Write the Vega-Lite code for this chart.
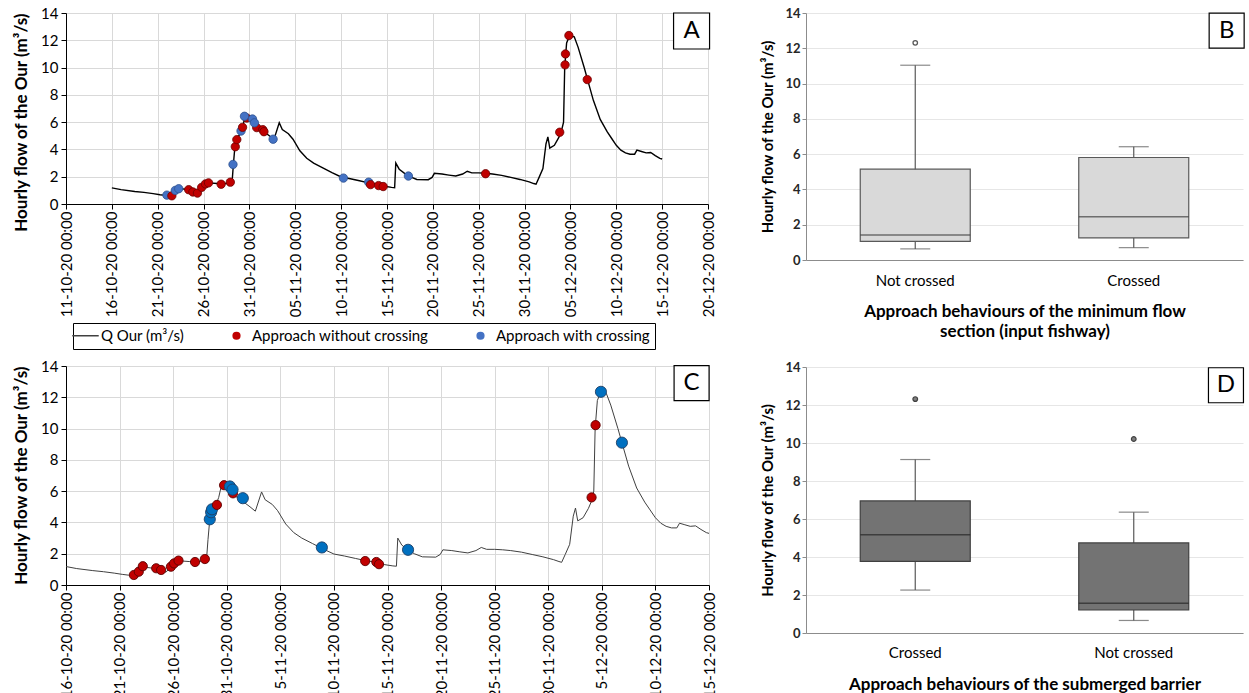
{
"$schema": "https://vega.github.io/schema/vega-lite/v6.json",
"padding": {"left": 12, "top": 6, "right": 0, "bottom": 0},
"background": "#ffffff",
"spacing": 43,
"resolve": {"scale": {"color": "independent", "fill": "independent", "stroke": "independent", "size": "independent"}, "legend": {"color": "independent"}},
"hconcat": [
 {"vconcat": [
  {"width": 642, "height": 191,
   "layer": [
    {"data": {"name": "flow"}, "mark": {"type": "line", "color": "#000000", "strokeWidth": 1.4},
     "encoding": {
      "x": {"field": "t", "type": "temporal",
        "scale": {"domain": [{"year":2020,"month":10,"date":11},{"year":2020,"month":12,"date":20}], "nice": false},
        "axis": {"title": null, "format": "%d-%m-%y %H:%M", "labelAngle": -90, "labelFontSize": 15, "labelPadding": 2, "tickSize": 5, "labelFlush": false, "labelOverlap": false, "labelBound": false, "grid": true,
          "values": [{"year":2020,"month":10,"date":11},{"year":2020,"month":10,"date":16},{"year":2020,"month":10,"date":21},{"year":2020,"month":10,"date":26},{"year":2020,"month":10,"date":31},{"year":2020,"month":11,"date":5},{"year":2020,"month":11,"date":10},{"year":2020,"month":11,"date":15},{"year":2020,"month":11,"date":20},{"year":2020,"month":11,"date":25},{"year":2020,"month":11,"date":30},{"year":2020,"month":12,"date":5},{"year":2020,"month":12,"date":10},{"year":2020,"month":12,"date":15},{"year":2020,"month":12,"date":20}]}},
      "y": {"field": "q", "type": "quantitative", "scale": {"domain": [0, 14], "nice": false},
        "axis": {"title": "Hourly flow of the Our (m³/s)", "titleAnchor": "end", "values": [0,2,4,6,8,10,12,14], "tickCount": 8, "labelOverlap": false, "labelFontSize": 15, "titleFontSize": 17, "titleFontWeight": "bold", "titlePadding": 10, "tickSize": 5, "labelPadding": 3, "grid": true}}
     }},
    {"data": {"name": "fishway"}, "mark": {"type": "point", "filled": true, "size": 70, "opacity": 1, "strokeWidth": 0.8},
     "encoding": {
      "x": {"field": "t", "type": "temporal"},
      "y": {"field": "q", "type": "quantitative"},
      "fill": {"field": "type", "type": "nominal", "scale": {"domain": ["Approach without crossing", "Approach with crossing"], "range": ["#c00000", "#4472c4"]}, "legend": null},
      "stroke": {"field": "type", "type": "nominal", "scale": {"domain": ["Approach without crossing", "Approach with crossing"], "range": ["#6b0000", "#2f528f"]}, "legend": null}
     }},
    {"data": {"values": [{"panel": "A"}]},
     "encoding": {"x": {"datum": {"year":2020,"month":12,"date":18,"hours":5}, "type": "temporal"}, "y": {"datum": 12.68}},
     "layer": [
      {"mark": {"type": "point", "shape": "square", "size": 1296, "filled": true, "fill": "#ffffff", "stroke": "#000000", "strokeWidth": 1.2, "opacity": 1}},
      {"mark": {"type": "text", "font": "Lato", "fontSize": 24, "align": "center", "baseline": "middle", "color": "#000000"}, "encoding": {"text": {"field": "panel"}}}
     ]}
   ]},
  {"width": 643, "height": 219,
   "layer": [
    {"data": {"name": "flow"}, "mark": {"type": "line", "strokeWidth": 1},
     "encoding": {
      "x": {"field": "t", "type": "temporal",
        "scale": {"domain": [{"year":2020,"month":10,"date":16},{"year":2020,"month":12,"date":15}], "nice": false},
        "axis": {"title": null, "format": "%-d-%m-%y %H:%M", "labelAngle": -90, "labelFontSize": 15, "labelPadding": 2, "tickSize": 5, "labelFlush": false, "labelOverlap": false, "labelBound": false, "grid": true,
          "values": [{"year":2020,"month":10,"date":16},{"year":2020,"month":10,"date":21},{"year":2020,"month":10,"date":26},{"year":2020,"month":10,"date":31},{"year":2020,"month":11,"date":5},{"year":2020,"month":11,"date":10},{"year":2020,"month":11,"date":15},{"year":2020,"month":11,"date":20},{"year":2020,"month":11,"date":25},{"year":2020,"month":11,"date":30},{"year":2020,"month":12,"date":5},{"year":2020,"month":12,"date":10},{"year":2020,"month":12,"date":15}]}},
      "y": {"field": "q", "type": "quantitative", "scale": {"domain": [0, 14], "nice": false},
        "axis": {"title": "Hourly flow of the Our (m³/s)", "titleAnchor": "end", "values": [0,2,4,6,8,10,12,14], "tickCount": 8, "labelOverlap": false, "labelFontSize": 15, "titleFontSize": 17, "titleFontWeight": "bold", "titlePadding": 10, "tickSize": 5, "labelPadding": 3, "grid": true}},
      "color": {"datum": "Q Our (m³/s)",
        "scale": {"domain": ["Q Our (m³/s)", "Approach without crossing", "Approach with crossing"], "range": ["#404040", "#c00000", "#4472c4"]},
        "legend": {"title": null, "orient": "none", "legendX": 7, "legendY": -43, "direction": "horizontal", "strokeColor": "#000000", "padding": 5, "labelFont": "Lato", "labelFontSize": 15, "labelColor": "#000000", "labelLimit": 300, "symbolSize": 700, "symbolType": "stroke", "labelOffset": 8, "columnPadding": 44,
          "encode": {"symbols": {"update": {
            "shape": {"signal": "datum.value === 'Q Our (m³/s)' ? 'stroke' : 'circle'"},
            "fill": {"signal": "datum.value === 'Approach without crossing' ? '#c00000' : (datum.value === 'Approach with crossing' ? '#4472c4' : 'transparent')"},
            "stroke": {"signal": "datum.value === 'Q Our (m³/s)' ? '#000000' : 'transparent'"},
            "size": {"signal": "datum.value === 'Q Our (m³/s)' ? 700 : 45"},
            "strokeWidth": {"value": 1.5},
            "opacity": {"value": 1}
          }}}}}
     }},
    {"data": {"name": "barrier"}, "mark": {"type": "point", "filled": true, "opacity": 1, "strokeWidth": 0.9},
     "encoding": {
      "x": {"field": "t", "type": "temporal"},
      "y": {"field": "q", "type": "quantitative"},
      "fill": {"field": "type", "type": "nominal", "scale": {"domain": ["Approach without crossing", "Approach with crossing"], "range": ["#c00000", "#0070c0"]}, "legend": null},
      "stroke": {"field": "type", "type": "nominal", "scale": {"domain": ["Approach without crossing", "Approach with crossing"], "range": ["#5c0000", "#1f3f66"]}, "legend": null},
      "size": {"field": "type", "type": "nominal", "scale": {"domain": ["Approach without crossing", "Approach with crossing"], "range": [85, 125]}, "legend": null}
     }},
    {"data": {"values": [{"panel": "C"}]},
     "encoding": {"x": {"datum": {"year":2020,"month":12,"date":13,"hours":9}, "type": "temporal"}, "y": {"datum": 12.9}},
     "layer": [
      {"mark": {"type": "point", "shape": "square", "size": 1225, "filled": true, "fill": "#ffffff", "stroke": "#000000", "strokeWidth": 1.2, "opacity": 1}},
      {"mark": {"type": "text", "font": "Lato", "fontSize": 24, "align": "center", "baseline": "middle", "color": "#000000"}, "encoding": {"text": {"field": "panel"}}}
     ]}
   ]}
 ], "spacing": 5,
 "resolve": {"scale": {"color": "independent", "fill": "independent", "stroke": "independent", "size": "independent"}, "legend": {"color": "independent"}}},
 {"concat": [
  {"width": 437, "height": 247,
   "layer": [
    {"data": {"name": "boxB"},
     "encoding": {"x": {"field": "group", "type": "nominal", "sort": ["Not crossed", "Crossed"],
        "axis": {"title": ["Approach behaviours of the minimum flow", "section (input fishway)"], "titleFontSize": 17, "titleFontWeight": "bold", "titlePadding": 15, "titleLineHeight": 20, "labelFontSize": 15, "labelAngle": 0, "labelPadding": 13, "ticks": false, "domainColor": "#8c8c8c", "domainWidth": 1.2}}},
     "layer": [
      {"mark": {"type": "rule", "color": "#595959", "strokeWidth": 1.2},
       "encoding": {"y": {"field": "lo", "type": "quantitative", "scale": {"domain": [0, 14], "nice": false},
          "axis": {"title": "Hourly flow of the Our (m³/s)", "values": [0,2,4,6,8,10,12,14], "tickCount": 8, "labelOverlap": false, "titleFontSize": 15, "titleFontWeight": "bold", "titlePadding": 9, "labelFontSize": 13, "labelFontWeight": "bold", "labelColor": "#262626", "tickSize": 4, "tickColor": "#8c8c8c", "domainColor": "#8c8c8c", "labelPadding": 2, "grid": true, "gridColor": "#e6e6e6"}},
         "y2": {"field": "hi"}}},
      {"mark": {"type": "bar", "size": 110, "fill": "#d9d9d9", "stroke": "#595959", "strokeWidth": 1.2},
       "encoding": {"y": {"field": "q1", "type": "quantitative"}, "y2": {"field": "q3"}}},
      {"mark": {"type": "tick", "size": 110, "thickness": 1.5, "color": "#404040"},
       "encoding": {"y": {"field": "med", "type": "quantitative"}}},
      {"mark": {"type": "tick", "size": 30, "thickness": 1.2, "color": "#595959"},
       "encoding": {"y": {"field": "lo", "type": "quantitative"}}},
      {"mark": {"type": "tick", "size": 30, "thickness": 1.2, "color": "#595959"},
       "encoding": {"y": {"field": "hi", "type": "quantitative"}}},
      {"data": {"name": "outB"}, "mark": {"type": "point", "size": 20, "filled": true, "fill": "#ffffff", "stroke": "#595959", "strokeWidth": 1.3, "opacity": 1},
       "encoding": {"y": {"field": "value", "type": "quantitative"}}}
     ]},
    {"data": {"values": [{"panel": "B"}]},
     "encoding": {"x": {"datum": 0.9626, "type": "quantitative", "scale": {"domain": [0, 1]}, "axis": null}, "y": {"datum": 13.0}},
     "layer": [
      {"mark": {"type": "point", "shape": "square", "size": 1225, "filled": true, "fill": "#ffffff", "stroke": "#000000", "strokeWidth": 1.2, "opacity": 1}},
      {"mark": {"type": "text", "font": "Lato", "fontSize": 24, "align": "center", "baseline": "middle", "color": "#000000"}, "encoding": {"text": {"field": "panel"}}}
     ]}
   ],
   "resolve": {"scale": {"x": "independent"}}},
  {"width": 437, "height": 266,
   "layer": [
    {"data": {"name": "boxD"},
     "encoding": {"x": {"field": "group", "type": "nominal", "sort": ["Crossed", "Not crossed"],
        "axis": {"title": "Approach behaviours of the submerged barrier", "titleFontSize": 17, "titleFontWeight": "bold", "titlePadding": 16, "labelFontSize": 15, "labelAngle": 0, "labelPadding": 12, "ticks": false, "domainColor": "#8c8c8c", "domainWidth": 1.2}}},
     "layer": [
      {"mark": {"type": "rule", "color": "#595959", "strokeWidth": 1.2},
       "encoding": {"y": {"field": "lo", "type": "quantitative", "scale": {"domain": [0, 14], "nice": false},
          "axis": {"title": "Hourly flow of the Our (m³/s)", "values": [0,2,4,6,8,10,12,14], "tickCount": 8, "labelOverlap": false, "titleFontSize": 15, "titleFontWeight": "bold", "titlePadding": 9, "labelFontSize": 13, "labelFontWeight": "bold", "labelColor": "#262626", "tickSize": 4, "tickColor": "#8c8c8c", "domainColor": "#8c8c8c", "labelPadding": 2, "grid": true, "gridColor": "#e6e6e6"}},
         "y2": {"field": "hi"}}},
      {"mark": {"type": "bar", "size": 110, "fill": "#737373", "stroke": "#404040", "strokeWidth": 1.2},
       "encoding": {"y": {"field": "q1", "type": "quantitative"}, "y2": {"field": "q3"}}},
      {"mark": {"type": "tick", "size": 110, "thickness": 1.5, "color": "#262626"},
       "encoding": {"y": {"field": "med", "type": "quantitative"}}},
      {"mark": {"type": "tick", "size": 30, "thickness": 1.2, "color": "#595959"},
       "encoding": {"y": {"field": "lo", "type": "quantitative"}}},
      {"mark": {"type": "tick", "size": 30, "thickness": 1.2, "color": "#595959"},
       "encoding": {"y": {"field": "hi", "type": "quantitative"}}},
      {"data": {"name": "outD"}, "mark": {"type": "point", "size": 22, "filled": true, "fill": "#7f7f7f", "stroke": "#404040", "strokeWidth": 1.2, "opacity": 1},
       "encoding": {"y": {"field": "value", "type": "quantitative"}}}
     ]},
    {"data": {"values": [{"panel": "D"}]},
     "encoding": {"x": {"datum": 0.961, "type": "quantitative", "scale": {"domain": [0, 1]}, "axis": null}, "y": {"datum": 13.04}},
     "layer": [
      {"mark": {"type": "point", "shape": "square", "size": 1225, "filled": true, "fill": "#ffffff", "stroke": "#000000", "strokeWidth": 1.2, "opacity": 1}},
      {"mark": {"type": "text", "font": "Lato", "fontSize": 24, "align": "center", "baseline": "middle", "color": "#000000"}, "encoding": {"text": {"field": "panel"}}}
     ]}
   ],
   "resolve": {"scale": {"x": "independent"}}}
 ], "columns": 1, "spacing": 22}
],
"config": {
 "view": {"stroke": null},
 "axis": {"labelFont": "Lato", "titleFont": "Lato", "labelColor": "#000000", "titleColor": "#000000", "domainColor": "#000000", "tickColor": "#000000", "gridColor": "#d9d9d9"},
 "axisY": {"labelOverlap": false, "labelSeparation": 0},
 "legend": {"labelFont": "Lato"},
 "text": {"font": "Lato"}
},
"datasets": {
 "flow": [
  {"t":"2020-10-16T00:00","q":1.18},{"t":"2020-10-17T00:00","q":1.05},{"t":"2020-10-18T12:00","q":0.92},{"t":"2020-10-19T12:00","q":0.85},{"t":"2020-10-20T12:00","q":0.76},{"t":"2020-10-21T06:00","q":0.68},{"t":"2020-10-21T20:00","q":0.63},{"t":"2020-10-22T08:00","q":0.62},{"t":"2020-10-22T18:00","q":0.85},{"t":"2020-10-23T03:00","q":1.15},{"t":"2020-10-23T14:00","q":1.12},{"t":"2020-10-24T08:00","q":1.05},{"t":"2020-10-24T20:00","q":0.95},{"t":"2020-10-25T08:00","q":0.82},{"t":"2020-10-25T19:00","q":1.18},{"t":"2020-10-26T03:00","q":1.42},{"t":"2020-10-26T12:00","q":1.55},{"t":"2020-10-27T12:00","q":1.5},{"t":"2020-10-28T12:00","q":1.5},{"t":"2020-10-28T22:00","q":1.65},{"t":"2020-10-29T03:00","q":1.75},{"t":"2020-10-29T06:00","q":2.9},{"t":"2020-10-29T10:00","q":4.2},{"t":"2020-10-29T15:00","q":4.8},{"t":"2020-10-30T00:00","q":5.15},{"t":"2020-10-30T06:00","q":5.6},{"t":"2020-10-30T12:00","q":6.35},{"t":"2020-10-30T20:00","q":6.4},{"t":"2020-10-31T06:00","q":6.3},{"t":"2020-10-31T13:00","q":5.95},{"t":"2020-10-31T20:00","q":5.65},{"t":"2020-11-01T08:00","q":5.5},{"t":"2020-11-01T14:00","q":5.3},{"t":"2020-11-02T04:00","q":5.0},{"t":"2020-11-02T16:00","q":4.72},{"t":"2020-11-03T06:00","q":5.95},{"t":"2020-11-03T14:00","q":5.45},{"t":"2020-11-04T06:00","q":5.15},{"t":"2020-11-04T18:00","q":4.75},{"t":"2020-11-05T12:00","q":3.9},{"t":"2020-11-06T06:00","q":3.35},{"t":"2020-11-07T00:00","q":3.0},{"t":"2020-11-08T00:00","q":2.65},{"t":"2020-11-09T00:00","q":2.3},{"t":"2020-11-10T00:00","q":1.98},{"t":"2020-11-11T00:00","q":1.85},{"t":"2020-11-12T00:00","q":1.7},{"t":"2020-11-13T00:00","q":1.55},{"t":"2020-11-14T00:00","q":1.45},{"t":"2020-11-14T18:00","q":1.3},{"t":"2020-11-15T12:00","q":1.22},{"t":"2020-11-15T20:00","q":1.2},{"t":"2020-11-15T23:00","q":3.0},{"t":"2020-11-16T08:00","q":2.55},{"t":"2020-11-16T22:00","q":2.25},{"t":"2020-11-17T12:00","q":2.0},{"t":"2020-11-18T06:00","q":1.8},{"t":"2020-11-19T12:00","q":1.78},{"t":"2020-11-19T22:00","q":1.95},{"t":"2020-11-20T04:00","q":2.25},{"t":"2020-11-21T00:00","q":2.2},{"t":"2020-11-21T18:00","q":2.12},{"t":"2020-11-22T12:00","q":2.05},{"t":"2020-11-23T06:00","q":2.2},{"t":"2020-11-23T18:00","q":2.4},{"t":"2020-11-24T06:00","q":2.28},{"t":"2020-11-25T00:00","q":2.28},{"t":"2020-11-25T18:00","q":2.25},{"t":"2020-11-26T12:00","q":2.2},{"t":"2020-11-27T12:00","q":2.1},{"t":"2020-11-28T12:00","q":1.95},{"t":"2020-11-29T12:00","q":1.8},{"t":"2020-11-30T12:00","q":1.62},{"t":"2020-12-01T00:00","q":1.5},{"t":"2020-12-01T06:00","q":1.45},{"t":"2020-12-01T14:00","q":1.95},{"t":"2020-12-02T00:00","q":2.6},{"t":"2020-12-02T08:00","q":4.4},{"t":"2020-12-02T13:00","q":4.92},{"t":"2020-12-02T18:00","q":4.1},{"t":"2020-12-03T06:00","q":4.3},{"t":"2020-12-03T18:00","q":4.9},{"t":"2020-12-04T00:00","q":5.3},{"t":"2020-12-04T06:00","q":6.0},{"t":"2020-12-04T09:00","q":10.0},{"t":"2020-12-04T14:00","q":11.8},{"t":"2020-12-04T22:00","q":12.35},{"t":"2020-12-05T10:00","q":12.25},{"t":"2020-12-05T20:00","q":11.5},{"t":"2020-12-06T12:00","q":10.0},{"t":"2020-12-06T21:00","q":9.1},{"t":"2020-12-07T12:00","q":7.6},{"t":"2020-12-08T06:00","q":6.2},{"t":"2020-12-09T00:00","q":5.3},{"t":"2020-12-09T12:00","q":4.8},{"t":"2020-12-10T00:00","q":4.3},{"t":"2020-12-10T12:00","q":3.95},{"t":"2020-12-11T00:00","q":3.75},{"t":"2020-12-11T12:00","q":3.65},{"t":"2020-12-12T00:00","q":3.65},{"t":"2020-12-12T06:00","q":3.95},{"t":"2020-12-12T18:00","q":3.85},{"t":"2020-12-13T06:00","q":3.75},{"t":"2020-12-13T18:00","q":3.78},{"t":"2020-12-14T06:00","q":3.55},{"t":"2020-12-14T18:00","q":3.35},{"t":"2020-12-15T00:00","q":3.3}
 ],
 "fishway": [
  {"t":"2020-10-22T00:00","q":0.65,"type":"Approach with crossing"},
  {"t":"2020-10-22T13:00","q":0.6,"type":"Approach without crossing"},
  {"t":"2020-10-22T22:00","q":1.0,"type":"Approach with crossing"},
  {"t":"2020-10-23T07:00","q":1.12,"type":"Approach with crossing"},
  {"t":"2020-10-24T09:00","q":1.05,"type":"Approach without crossing"},
  {"t":"2020-10-24T20:00","q":0.88,"type":"Approach without crossing"},
  {"t":"2020-10-25T08:00","q":0.8,"type":"Approach without crossing"},
  {"t":"2020-10-25T19:00","q":1.22,"type":"Approach without crossing"},
  {"t":"2020-10-26T05:00","q":1.47,"type":"Approach without crossing"},
  {"t":"2020-10-26T13:00","q":1.55,"type":"Approach without crossing"},
  {"t":"2020-10-27T22:00","q":1.45,"type":"Approach without crossing"},
  {"t":"2020-10-28T22:00","q":1.6,"type":"Approach without crossing"},
  {"t":"2020-10-29T05:00","q":2.9,"type":"Approach with crossing"},
  {"t":"2020-10-29T11:00","q":4.2,"type":"Approach without crossing"},
  {"t":"2020-10-29T15:00","q":4.72,"type":"Approach without crossing"},
  {"t":"2020-10-30T02:00","q":5.35,"type":"Approach with crossing"},
  {"t":"2020-10-30T06:00","q":5.62,"type":"Approach without crossing"},
  {"t":"2020-10-30T17:00","q":6.3,"type":"Approach without crossing"},
  {"t":"2020-10-30T11:00","q":6.43,"type":"Approach with crossing"},
  {"t":"2020-10-31T19:00","q":5.6,"type":"Approach without crossing"},
  {"t":"2020-11-01T11:00","q":5.45,"type":"Approach without crossing"},
  {"t":"2020-11-01T14:00","q":5.3,"type":"Approach without crossing"},
  {"t":"2020-10-31T08:00","q":6.23,"type":"Approach with crossing"},
  {"t":"2020-10-31T13:00","q":5.95,"type":"Approach with crossing"},
  {"t":"2020-11-02T14:00","q":4.75,"type":"Approach with crossing"},
  {"t":"2020-11-10T06:00","q":1.9,"type":"Approach with crossing"},
  {"t":"2020-11-13T00:00","q":1.6,"type":"Approach with crossing"},
  {"t":"2020-11-13T05:00","q":1.42,"type":"Approach without crossing"},
  {"t":"2020-11-14T02:00","q":1.35,"type":"Approach without crossing"},
  {"t":"2020-11-14T14:00","q":1.28,"type":"Approach without crossing"},
  {"t":"2020-11-17T08:00","q":2.05,"type":"Approach with crossing"},
  {"t":"2020-11-25T18:00","q":2.22,"type":"Approach without crossing"},
  {"t":"2020-12-03T20:00","q":5.26,"type":"Approach without crossing"},
  {"t":"2020-12-04T10:00","q":10.2,"type":"Approach without crossing"},
  {"t":"2020-12-04T11:00","q":11.0,"type":"Approach without crossing"},
  {"t":"2020-12-04T20:00","q":12.35,"type":"Approach without crossing"},
  {"t":"2020-12-06T20:00","q":9.12,"type":"Approach without crossing"}
 ],
 "barrier": [
  {"t":"2020-10-22T08:00","q":0.64,"type":"Approach without crossing"},
  {"t":"2020-10-22T19:00","q":0.85,"type":"Approach without crossing"},
  {"t":"2020-10-23T04:00","q":1.2,"type":"Approach without crossing"},
  {"t":"2020-10-24T10:00","q":1.07,"type":"Approach without crossing"},
  {"t":"2020-10-24T21:00","q":0.96,"type":"Approach without crossing"},
  {"t":"2020-10-25T19:00","q":1.17,"type":"Approach without crossing"},
  {"t":"2020-10-26T02:00","q":1.38,"type":"Approach without crossing"},
  {"t":"2020-10-26T12:00","q":1.56,"type":"Approach without crossing"},
  {"t":"2020-10-28T01:00","q":1.47,"type":"Approach without crossing"},
  {"t":"2020-10-28T23:00","q":1.66,"type":"Approach without crossing"},
  {"t":"2020-10-29T10:00","q":4.2,"type":"Approach with crossing"},
  {"t":"2020-10-29T13:00","q":4.65,"type":"Approach with crossing"},
  {"t":"2020-10-29T15:00","q":4.84,"type":"Approach with crossing"},
  {"t":"2020-10-30T02:00","q":5.12,"type":"Approach without crossing"},
  {"t":"2020-10-30T18:00","q":6.38,"type":"Approach without crossing"},
  {"t":"2020-10-31T14:00","q":5.86,"type":"Approach without crossing"},
  {"t":"2020-10-31T07:00","q":6.3,"type":"Approach with crossing"},
  {"t":"2020-10-31T13:00","q":6.1,"type":"Approach with crossing"},
  {"t":"2020-11-01T12:00","q":5.55,"type":"Approach with crossing"},
  {"t":"2020-11-08T21:00","q":2.4,"type":"Approach with crossing"},
  {"t":"2020-11-12T22:00","q":1.53,"type":"Approach without crossing"},
  {"t":"2020-11-13T23:00","q":1.47,"type":"Approach without crossing"},
  {"t":"2020-11-14T05:00","q":1.33,"type":"Approach without crossing"},
  {"t":"2020-11-16T22:00","q":2.25,"type":"Approach with crossing"},
  {"t":"2020-12-04T01:00","q":5.6,"type":"Approach without crossing"},
  {"t":"2020-12-04T10:00","q":10.22,"type":"Approach without crossing"},
  {"t":"2020-12-04T22:00","q":12.35,"type":"Approach with crossing"},
  {"t":"2020-12-06T21:00","q":9.1,"type":"Approach with crossing"}
 ],
 "boxB": [
  {"group":"Not crossed","lo":0.63,"q1":1.06,"med":1.42,"q3":5.15,"hi":11.04},
  {"group":"Crossed","lo":0.70,"q1":1.25,"med":2.45,"q3":5.81,"hi":6.42}
 ],
 "outB": [{"group":"Not crossed","value":12.31}],
 "boxD": [
  {"group":"Crossed","lo":2.26,"q1":3.77,"med":5.17,"q3":6.95,"hi":9.13},
  {"group":"Not crossed","lo":0.66,"q1":1.21,"med":1.56,"q3":4.74,"hi":6.36}
 ],
 "outD": [{"group":"Crossed","value":12.31},{"group":"Not crossed","value":10.21}]
}
}
